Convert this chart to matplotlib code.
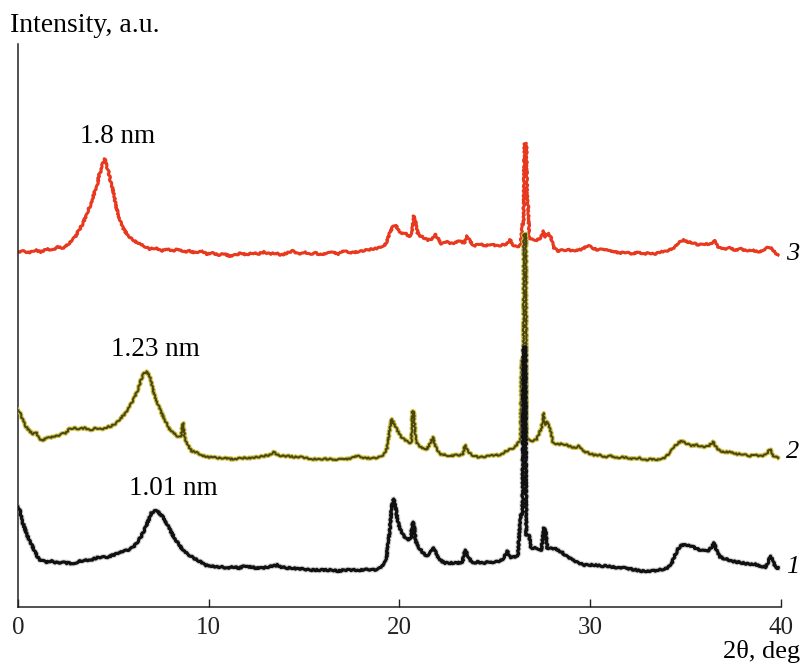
import matplotlib
matplotlib.use("Agg")
import matplotlib.pyplot as plt

plt.rcParams['font.family'] = ['Liberation Serif', 'DejaVu Serif']

# XRD patterns, intensities stacked with offsets (a.u.)
two_theta_3 = [0.0, 0.3, 0.6, 0.9, 1.2, 1.5, 1.8, 2.1, 2.4, 2.7,
               3.0, 3.2, 3.4, 3.6, 3.8,
               3.9, 4.05, 4.15, 4.25, 4.35, 4.45, 4.55, 4.65, 4.75, 4.85,
               5.0, 5.15, 5.3, 5.45, 5.6, 5.8, 6.0,
               6.3, 6.6, 6.9, 7.2, 7.5, 7.8, 8.1, 8.4, 8.7, 9.0,
               9.3, 9.6, 9.9, 10.2, 10.5, 10.8, 11.1, 11.4, 11.7, 12.0,
               12.3, 12.6, 12.9, 13.2, 13.5, 13.8, 14.1, 14.4, 14.7, 15.0,
               15.3, 15.6, 15.9, 16.2, 16.5, 16.8, 17.1, 17.4, 17.7, 18.0,
               18.3, 18.6, 18.9, 19.2,
               19.35, 19.5, 19.65, 19.8, 19.95,
               20.1, 20.3, 20.5, 20.65, 20.75, 20.85, 20.95,
               21.1, 21.3, 21.5, 21.7, 21.85, 22.0, 22.2,
               22.5, 22.8, 23.1, 23.4, 23.55, 23.7, 23.9,
               24.2, 24.5, 24.8, 25.1, 25.4, 25.6, 25.8, 26.0, 26.2,
               26.35, 26.45, 26.5, 26.55, 26.65, 26.7, 26.75, 26.8,
               27.0, 27.2, 27.4, 27.55, 27.65, 27.8, 27.95, 28.1,
               28.3, 28.6, 28.9, 29.2, 29.6, 29.9,
               30.1, 30.4, 30.7, 31.0, 31.3, 31.6, 31.9, 32.2, 32.5, 32.8,
               33.1, 33.4, 33.7, 34.0, 34.3, 34.5, 34.7, 34.9,
               35.1, 35.4, 35.7, 36.0, 36.3, 36.55, 36.7,
               37.0, 37.3, 37.6, 37.9, 38.2, 38.5, 38.8, 39.1,
               39.35, 39.55, 39.7, 39.85]
intensity_3 = [348, 349, 347, 350, 348, 351, 350, 353, 352, 357,
               363, 370, 376, 386, 395,
               401, 410, 414, 425, 428, 437, 441, 434, 428, 419,
               408, 393, 382, 374, 369, 364, 360,
               357, 354, 351, 352, 349, 351, 349, 351, 348, 349,
               347, 349, 346, 347, 345, 346, 344, 345, 347, 345,
               347, 346, 348, 346, 347, 345, 347, 349, 346, 348,
               346, 347, 345, 347, 348, 346, 349, 347, 348, 349,
               350, 351, 352, 354,
               359, 368, 373, 375, 370,
               366, 367, 363, 367, 384, 380, 367,
               364, 362, 360, 361, 366, 362, 356,
               358, 356, 359, 357, 364, 359, 354,
               356, 354, 356, 354, 355, 356, 360, 354, 353,
               355, 376, 376, 456, 456, 395, 395, 362,
               360, 360, 362, 369, 363, 367, 362, 352,
               349, 350, 350, 349, 351, 355,
               352, 350, 351, 349, 348, 347, 348, 346, 348, 346,
               347, 346, 348, 349, 351, 354, 358, 360,
               358, 357, 355, 356, 356, 359, 353,
               351, 352, 350, 351, 349, 350, 348, 350,
               353, 351, 347, 345]

two_theta_2 = [0.0, 0.1, 0.25, 0.4, 0.6, 0.8, 0.95, 1.1, 1.3, 1.5,
               1.7, 1.9, 2.1, 2.3, 2.5, 2.7, 2.9, 3.2, 3.5, 3.8,
               4.1, 4.4, 4.7, 4.9, 5.1, 5.3, 5.5, 5.7, 5.9, 6.1,
               6.3, 6.45, 6.6, 6.75, 6.9, 7.0, 7.15, 7.3, 7.5, 7.7,
               7.9, 8.1, 8.35, 8.55, 8.65, 8.75, 8.9, 9.1, 9.3, 9.6,
               9.9, 10.2, 10.5, 10.8, 11.1, 11.4, 11.7, 12.0, 12.3, 12.6,
               12.9, 13.2, 13.4, 13.6, 13.9, 14.2, 14.5, 14.8, 15.1, 15.4,
               15.7, 16.0, 16.3, 16.6, 16.9, 17.2, 17.5, 17.8, 18.1, 18.4,
               18.7, 19.0, 19.2, 19.35, 19.5, 19.6, 19.75, 19.9, 20.1, 20.3,
               20.5, 20.62, 20.68, 20.75, 20.85, 21.0, 21.2, 21.4, 21.6, 21.75,
               21.9, 22.1, 22.4, 22.7, 23.0, 23.3, 23.45, 23.6, 23.8, 24.1,
               24.4, 24.7, 25.0, 25.3, 25.5, 25.7, 25.9, 26.1, 26.25, 26.35,
               26.4, 26.5, 26.52, 26.63, 26.66, 26.8, 27.0, 27.2, 27.35, 27.45,
               27.55, 27.62, 27.75, 27.85, 27.95, 28.05, 28.3, 28.6, 28.9, 29.2,
               29.4, 29.6, 29.9, 30.2, 30.5, 30.8, 31.1, 31.4, 31.7, 32.0,
               32.3, 32.6, 32.9, 33.2, 33.5, 33.8, 34.0, 34.2, 34.4, 34.6,
               34.8, 35.0, 35.3, 35.6, 35.9, 36.2, 36.45, 36.6, 36.8, 37.1,
               37.4, 37.7, 38.0, 38.3, 38.6, 38.9, 39.2, 39.35, 39.45, 39.6,
               39.75, 39.85]
intensity_2 = [190, 188, 180, 174, 169, 166, 168, 162, 159, 163,
               162, 164, 164, 166, 167, 171, 172, 171, 172, 170,
               172, 171, 173, 174, 176, 180, 184, 188, 195, 202,
               211, 220, 227, 228, 224, 217, 205, 197, 188, 180,
               172, 168, 164, 163, 177, 162, 155, 149, 148, 145,
               143, 143, 142, 142, 141, 141, 142, 142, 142, 143,
               144, 145, 148, 145, 144, 144, 143, 143, 142, 141,
               141, 141, 141, 140, 141, 141, 142, 144, 142, 142,
               142, 143, 146, 152, 172, 181, 175, 169, 163, 160,
               157, 157, 189, 189, 160, 154, 152, 150, 156, 163,
               153, 146, 145, 144, 145, 145, 155, 148, 145, 143,
               143, 144, 145, 145, 148, 150, 151, 154, 158, 160,
               240, 240, 366, 366, 163, 160, 159, 161, 168, 172,
               187, 175, 178, 174, 167, 157, 156, 156, 154, 152,
               154, 149, 147, 145, 145, 143, 144, 142, 143, 142,
               141, 142, 140, 141, 140, 141, 144, 148, 153, 157,
               159, 157, 154, 155, 153, 154, 158, 153, 149, 148,
               148, 146, 146, 144, 145, 144, 145, 149, 151, 144,
               144, 142]

two_theta_1 = [0.0, 0.1, 0.2, 0.35, 0.5, 0.7, 0.85, 1.0, 1.15, 1.3,
               1.5, 1.7, 1.9, 2.1, 2.3, 2.5, 2.7, 2.9, 3.1, 3.3,
               3.5, 3.8, 4.1, 4.4, 4.7, 5.0, 5.3, 5.6, 5.9, 6.1,
               6.3, 6.5, 6.7, 6.85, 7.0, 7.15, 7.3, 7.45, 7.6, 7.8,
               8.0, 8.2, 8.45, 8.7, 8.9, 9.2, 9.5, 9.8, 10.1, 10.4,
               10.7, 11.0, 11.3, 11.6, 11.9, 12.2, 12.5, 12.8, 13.1, 13.4,
               13.6, 13.8, 14.1, 14.4, 14.7, 15.0, 15.3, 15.6, 15.9, 16.2,
               16.5, 16.8, 17.1, 17.4, 17.7, 18.0, 18.3, 18.6, 18.9, 19.1,
               19.3, 19.4, 19.5, 19.6, 19.7, 19.8, 19.9, 20.0, 20.15, 20.3,
               20.45, 20.6, 20.68, 20.75, 20.85, 21.0, 21.2, 21.4, 21.6, 21.8,
               21.95, 22.1, 22.4, 22.7, 23.0, 23.3, 23.45, 23.6, 23.8, 24.1,
               24.4, 24.7, 25.0, 25.3, 25.5, 25.65, 25.8, 26.0, 26.2, 26.35,
               26.45, 26.5, 26.6, 26.65, 26.8, 26.9, 27.1, 27.3, 27.45, 27.55,
               27.65, 27.75, 27.95, 28.2, 28.5, 28.8, 29.1, 29.4, 29.7, 30.0,
               30.3, 30.6, 30.9, 31.2, 31.5, 31.8, 32.1, 32.4, 32.7, 33.0,
               33.3, 33.6, 33.9, 34.1, 34.3, 34.45, 34.6, 34.8, 35.0, 35.2,
               35.4, 35.6, 35.8, 36.0, 36.2, 36.4, 36.5, 36.65, 36.8, 37.1,
               37.4, 37.7, 38.0, 38.3, 38.6, 38.9, 39.2, 39.35, 39.45, 39.6,
               39.7, 39.85]
intensity_1 = [93, 90, 80, 72, 64, 56, 50, 44, 40, 39,
               38, 39, 38, 37, 38, 37, 37, 36, 38, 39,
               40, 40, 42, 43, 43, 45, 47, 49, 51, 54,
               59, 65, 73, 80, 87, 89, 89, 86, 83, 76,
               69, 62, 55, 49, 46, 42, 39, 35, 34, 33,
               33, 32, 33, 32, 34, 33, 32, 32, 33, 34,
               35, 33, 32, 32, 31, 31, 30, 30, 30, 30,
               30, 29, 30, 30, 30, 30, 31, 30, 31, 34,
               40, 55, 72, 94, 101, 92, 80, 72, 67, 62,
               60, 62, 78, 77, 59, 53, 48, 44, 47, 52,
               45, 40, 37, 37, 37, 38, 50, 44, 37, 38,
               37, 38, 38, 39, 43, 49, 42, 43, 44, 85,
               85, 253, 253, 65, 64, 52, 52, 51, 50, 72,
               70, 52, 52, 51, 48, 43, 40, 37, 35, 35,
               35, 34, 34, 33, 32, 32, 31, 30, 29, 29,
               29, 30, 31, 33, 38, 45, 51, 55, 55, 54,
               53, 51, 50, 49, 49, 54, 57, 48, 43, 41,
               39, 38, 37, 36, 36, 34, 33, 39, 44, 38,
               33, 32]

peak_labels = ['1.8 nm', '1.23 nm', '1.01 nm']
peak_pos = [(5.24, 463), (7.18, 250), (8.13, 112)]
curve_names = ['3', '2', '1']
curve_name_y = [346, 148, 33]

fig = plt.figure(figsize=(8.02, 6.64), dpi=100)
ax = fig.add_axes([0.0224, 0.0858, 0.9514, 0.848])

# light wiggle on the traces to mimic counting noise of the scans
noise = (0.7, 5.0, 3.0)
lines = []
lines += ax.plot(two_theta_3, intensity_3, color='#e8391e', lw=2.2, zorder=2)
lines += ax.plot(two_theta_2, intensity_2, color='#cdc24a', lw=3.0, zorder=3)
lines += ax.plot(two_theta_2, intensity_2, color='#4a4513', lw=1.4, zorder=4)
lines += ax.plot(two_theta_1, intensity_1, color='#888888', lw=3.8,
                 alpha=0.35, zorder=5)
lines += ax.plot(two_theta_1, intensity_1, color='#111111', lw=2.3, zorder=6)
for ln in lines:
    ln.set_sketch_params(*noise)

for txt, (px, py) in zip(peak_labels, peak_pos):
    ax.text(px, py, txt, ha='center', va='center', fontsize=19.5)

for name, ny in zip(curve_names, curve_name_y):
    ax.text(40.63, ny, name, ha='center', va='center', fontsize=19,
            style='italic', clip_on=False)

ax.set_xlim(0, 40)
ax.set_ylim(-7, 556)
ax.set_xticks([0, 10, 20, 30, 40])
ax.set_yticks([])
ax.tick_params(axis='x', direction='in', length=6, width=1.0,
               labelsize=18, pad=7, colors='#222222')
for side in ['top', 'right']:
    ax.spines[side].set_visible(False)
for side in ['left', 'bottom']:
    ax.spines[side].set_linewidth(1.1)
    ax.spines[side].set_color('#222222')

fig.text(10 / 802, 1 - 25 / 664, 'Intensity, a.u.', ha='left', va='center',
         fontsize=20)
fig.text(800 / 802, 1 - 658 / 664, '2θ, deg', ha='right', va='baseline',
         fontsize=19)

fig.savefig('out.png', dpi=100)
